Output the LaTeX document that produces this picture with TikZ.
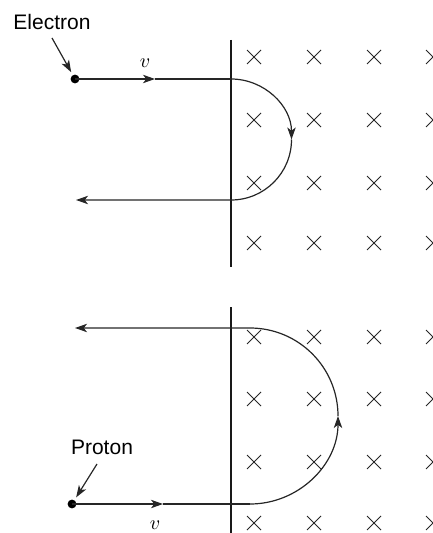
\documentclass[tikz,border=0pt]{standalone}
\usepackage{fontspec}
\newfontfamily\labelfont{Liberation Sans}
\usetikzlibrary{arrows.meta,positioning}
\tikzset{
  track/.style={line width=0.6pt, black!85},
  fwd/.style={-{Stealth[length=6pt,width=4.2pt,inset=1.6pt]}},
  particle/.style={circle, fill=black, inner sep=0pt, minimum size=4.4pt},
  plabel/.style={font=\labelfont\fontsize{10.5}{12}\selectfont},
  bfield/.style={line width=0.45pt, black!85},
  edge/.style={line width=0.7pt, black!90},
}

\begin{document}
\begin{tikzpicture}[x=0.5pt,y=-0.5pt]
\useasboundingbox (0,0) rectangle (432,533);

% Magnetic field into the page (crosses)
\foreach \y in {57,120,183,243,337,399,462,523}
  \foreach \x in {254,314,374,433}
    \draw[bfield] (\x-7,\y-7) -- (\x+7,\y+7) (\x-7,\y+7) -- (\x+7,\y-7);

% TOP: electron turns down and comes back
\begin{scope}
  \draw[edge] (231,40) -- (231,267);
  \node[particle] (edot) at (75,79) {};
  \node[plabel] (elabel) at (52,22) {Electron};
  \node (ev) at (145,63) {$v$};
  \coordinate (emid) at (155,79);
  \coordinate (ein) at (231,79);
  \coordinate (eend) at (76,200);
  \coordinate (etail) at (52,38);
  % Pointer
  \draw[track, fwd, shorten >=1.5pt] (etail) -- (edot);
  % Path
  \draw[track, fwd] (edot.center) -- (emid);
  \draw[track] (emid) -- (ein);
  \draw[track, fwd] (ein) arc[start angle=-90, end angle=0, radius=60.5] coordinate (eturn);
  \draw[track, fwd] (eturn) arc[start angle=0, end angle=90, radius=60.5] -- (eend);
\end{scope}

% BOTTOM: proton turns up and comes back
\begin{scope}
  \draw[edge] (231,307) -- (231,533);
  \node[particle] (pdot) at (72,504) {};
  \node[plabel] (plab) at (102,447) {Proton};
  \node (pv) at (155,525) {$v$};
  \coordinate (pmid) at (163,504);
  \coordinate (pin) at (250,504);
  \coordinate (pend) at (75,328);
  \coordinate (ptail) at (97,464);
  % Pointer
  \draw[track, fwd, shorten >=1.5pt] (ptail) -- (pdot);
  % Path
  \draw[track, fwd] (pdot.center) -- (pmid);
  \draw[track] (pmid) -- (pin);
  \draw[track, fwd] (pin) arc[start angle=90, end angle=0, radius=88] coordinate (pturn);
  \draw[track, fwd] (pturn) arc[start angle=0, end angle=-90, radius=88] -- (pend);
\end{scope}

\end{tikzpicture}
\end{document}
